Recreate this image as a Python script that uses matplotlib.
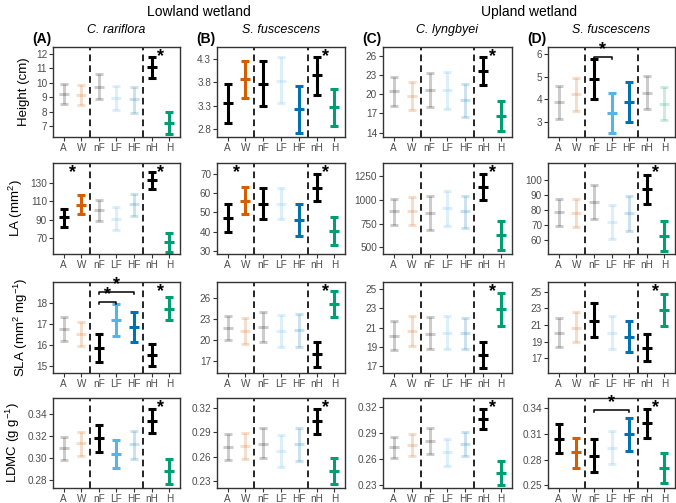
import numpy as np
import matplotlib.pyplot as plt

plt.rcParams["font.family"] = ["Liberation Sans", "DejaVu Sans"]
plt.rcParams["mathtext.fontset"] = "custom"
plt.rcParams["mathtext.rm"] = "Liberation Sans"
plt.rcParams["mathtext.default"] = "regular"

GROUPS = ["A", "W", "nF", "LF", "HF", "nH", "H"]
GROUP_COLORS = ["black", "#D55E00", "black", "#56B4E9", "#0072B2", "black", "#009E73"]

SPECIES = ["C. rariflora", "S. fuscescens", "C. lyngbyei", "S. fuscescens"]
PANEL_TAGS = ["(A)", "(B)", "(C)", "(D)"]
SITES = ["Lowland wetland", "Upland wetland"]
TRAIT_LABELS = ["Height (cm)", "LA (mm$^2$)", "SLA (mm$^2$ mg$^{-1}$)", "LDMC (g g$^{-1}$)"]

# ---- Height ----
HEIGHT_MEAN = [
    [9.20, 9.15, 9.73, 8.97, 8.85, 11.12, 7.23],
    [3.35, 3.87, 3.76, 3.84, 3.22, 3.95, 3.28],
    [20.52, 19.79, 20.68, 20.68, 19.10, 23.70, 16.60],
    [3.86, 4.23, 4.89, 3.37, 3.89, 4.26, 3.79],
]
HEIGHT_LOW = [
    [8.50, 8.46, 8.88, 8.10, 7.93, 10.36, 6.42],
    [2.94, 3.47, 3.29, 3.35, 2.71, 3.52, 2.87],
    [18.17, 17.55, 17.97, 17.70, 16.50, 21.46, 14.30],
    [3.12, 3.47, 4.00, 2.48, 3.00, 3.55, 3.07],
]
HEIGHT_HIGH = [
    [9.92, 9.85, 10.60, 9.80, 9.73, 11.80, 8.00],
    [3.76, 4.26, 4.26, 4.35, 3.72, 4.35, 3.67],
    [22.77, 21.98, 23.39, 23.55, 21.60, 25.80, 19.00],
    [4.60, 4.97, 5.78, 4.26, 4.78, 5.03, 4.56],
]
HEIGHT_SOLID = [
    [0, 0, 0, 0, 0, 1, 1],
    [1, 1, 1, 0, 1, 1, 1],
    [0, 0, 0, 0, 0, 1, 1],
    [0, 0, 1, 1, 1, 0, 0],
]

# ---- LA ----
LA_MEAN = [
    [92.9, 106.4, 100.2, 91.1, 107.5, 132.9, 66.4],
    [46.9, 56.2, 54.5, 54.5, 46.1, 63.0, 40.3],
    [879, 885, 861, 914, 879, 1133, 631],
    [78.4, 78.2, 85.1, 72.2, 78.2, 93.8, 62.7],
]
LA_LOW = [
    [82.7, 96.2, 89.3, 79.0, 94.7, 123.5, 55.5],
    [40.0, 49.0, 46.4, 46.4, 37.7, 56.0, 33.0],
    [737, 737, 684, 727, 709, 995, 472],
    [69.3, 68.4, 73.8, 60.4, 66.2, 84.0, 52.9],
]
LA_HIGH = [
    [102.0, 116.5, 111.8, 103.8, 118.5, 142.0, 76.2],
    [54.5, 63.2, 62.7, 62.7, 54.5, 70.0, 47.5],
    [1013, 1027, 1038, 1091, 1045, 1275, 783],
    [87.3, 87.3, 96.2, 83.3, 89.3, 102.9, 72.7],
]
LA_SOLID = [
    [1, 1, 0, 0, 0, 1, 1],
    [1, 1, 1, 0, 1, 1, 1],
    [0, 0, 0, 0, 0, 1, 1],
    [0, 0, 0, 0, 0, 1, 1],
]

# ---- SLA ----
SLA_MEAN = [
    [16.77, 16.53, 15.86, 17.19, 16.84, 15.55, 17.73],
    [21.69, 21.31, 21.92, 21.31, 21.45, 18.03, 25.20],
    [20.13, 20.64, 20.30, 20.47, 20.40, 18.19, 22.86],
    [20.00, 20.68, 21.52, 20.08, 19.52, 18.20, 22.80],
]
SLA_LOW = [
    [16.22, 15.94, 15.19, 16.45, 16.14, 15.00, 17.19],
    [20.05, 19.44, 19.81, 19.00, 19.10, 16.20, 23.33],
    [18.70, 19.14, 18.77, 18.80, 18.80, 16.83, 21.19],
    [18.30, 18.92, 19.52, 18.12, 17.68, 16.68, 20.88],
]
SLA_HIGH = [
    [17.31, 17.11, 16.53, 17.92, 17.55, 16.06, 18.28],
    [23.47, 23.09, 24.03, 23.56, 23.66, 19.81, 26.98],
    [21.66, 22.17, 22.04, 22.17, 22.00, 19.55, 24.60],
    [21.80, 22.52, 23.68, 22.08, 21.52, 19.88, 24.72],
]
SLA_SOLID = [
    [0, 0, 1, 1, 1, 1, 1],
    [0, 0, 0, 0, 0, 1, 1],
    [0, 0, 0, 0, 0, 1, 1],
    [0, 0, 1, 0, 1, 1, 1],
]

# ---- LDMC ----
LDMC_MEAN = [
    [0.3091, 0.3136, 0.3180, 0.3038, 0.3127, 0.3335, 0.2883],
    [0.2714, 0.2734, 0.2762, 0.2673, 0.2754, 0.3038, 0.2430],
    [0.2733, 0.2763, 0.2809, 0.2683, 0.2771, 0.3066, 0.2434],
    [0.3044, 0.2883, 0.2844, 0.2940, 0.3094, 0.3228, 0.2703],
]
LDMC_LOW = [
    [0.2984, 0.3017, 0.3058, 0.2910, 0.2993, 0.3231, 0.2770],
    [0.2559, 0.2572, 0.2580, 0.2470, 0.2551, 0.2876, 0.2268],
    [0.2606, 0.2637, 0.2656, 0.2514, 0.2629, 0.2943, 0.2300],
    [0.2871, 0.2703, 0.2653, 0.2749, 0.2902, 0.3055, 0.2527],
]
LDMC_HIGH = [
    [0.3195, 0.3240, 0.3300, 0.3162, 0.3246, 0.3445, 0.2993],
    [0.2876, 0.2896, 0.2949, 0.2864, 0.2949, 0.3192, 0.2584],
    [0.2856, 0.2894, 0.2955, 0.2828, 0.2913, 0.3181, 0.2572],
    [0.3209, 0.3055, 0.3036, 0.3132, 0.3277, 0.3389, 0.2875],
]
LDMC_SOLID = [
    [0, 0, 1, 1, 0, 1, 1],
    [0, 0, 0, 0, 0, 1, 1],
    [0, 0, 0, 0, 0, 1, 1],
    [1, 1, 1, 0, 1, 1, 1],
]

# y ticks per row/panel
YTICKS = [
    [[7, 8, 9, 10, 11, 12], [2.8, 3.3, 3.8, 4.3], [14, 17, 20, 23, 26], [3, 4, 5, 6]],
    [[70, 90, 110, 130], [30, 40, 50, 60, 70], [500, 750, 1000, 1250], [60, 70, 80, 90, 100]],
    [[15, 16, 17, 18], [17, 20, 23, 26], [17, 19, 21, 23, 25], [17, 19, 21, 23, 25]],
    [[0.28, 0.30, 0.32, 0.34], [0.23, 0.26, 0.29, 0.32], [0.23, 0.26, 0.29, 0.32], [0.25, 0.28, 0.31, 0.34]],
]
YLIMS = [
    [(6.24, 12.49), (2.63, 4.56), (13.3, 27.4), (2.32, 6.33)],
    [(52.9, 151.8), (28.3, 75.8), (429, 1391), (50.7, 111.1)],
    [(14.69, 18.98), (15.36, 28.25), (16.32, 25.68), (15.2, 26.2)],
    [(0.2732, 0.3543), (0.2215, 0.3322), (0.2262, 0.3307), (0.247, 0.3515)],
]

# significance stars: (row, col, x position)
STARS = [
    (0, 0, 6.5), (0, 1, 6.5), (0, 2, 6.5),
    (1, 0, 1.5), (1, 0, 6.5), (1, 1, 1.5), (1, 1, 6.5), (1, 2, 6.5), (1, 3, 6.5),
    (2, 0, 6.5), (2, 1, 6.5), (2, 2, 6.5), (2, 3, 6.5),
    (3, 0, 6.5), (3, 1, 6.5), (3, 2, 6.5), (3, 3, 6.5),
]
# brackets: (row, col, from group, to group, y)
BRACKETS = [
    (0, 3, 3, 4, 5.88),
    (2, 0, 3, 4, 18.05),
    (2, 0, 3, 5, 18.50),
    (3, 3, 3, 5, 0.338),
]

TRAITS = [
    (HEIGHT_MEAN, HEIGHT_LOW, HEIGHT_HIGH, HEIGHT_SOLID),
    (LA_MEAN, LA_LOW, LA_HIGH, LA_SOLID),
    (SLA_MEAN, SLA_LOW, SLA_HIGH, SLA_SOLID),
    (LDMC_MEAN, LDMC_LOW, LDMC_HIGH, LDMC_SOLID),
]

W, H = 676, 503
fig = plt.figure(figsize=(W / 100, H / 100), dpi=100)

col_px = [(53, 180), (217, 345), (383, 512), (548, 675)]
row_px = [(47, 137), (163, 254), (282, 373), (398, 488)]

axes = [[None] * 4 for _ in range(4)]
x = np.arange(1, 8)

for r in range(4):
    means, lows, highs, solids = TRAITS[r]
    for c in range(4):
        x0, x1 = col_px[c]
        y0, y1 = row_px[r]
        ax = fig.add_axes([x0 / W, 1 - y1 / H, (x1 - x0) / W, (y1 - y0) / H])
        axes[r][c] = ax

        for i in range(7):
            m = means[c][i]
            alpha = 1.0 if solids[c][i] else 0.2
            ax.errorbar(
                x[i], m,
                yerr=[[m - lows[c][i]], [highs[c][i] - m]],
                fmt="_", ms=6.5, mew=2.2,
                capsize=2.8, capthick=2.2, elinewidth=2.2,
                color=GROUP_COLORS[i], alpha=alpha,
            )

        for xv in (2.5, 5.5):
            ax.axvline(xv, color="black", lw=1.2, ls=(0, (4, 2.5)))

        ax.set_xlim(0.4, 7.6)
        ax.set_ylim(*YLIMS[r][c])
        ax.set_xticks(x)
        ax.set_xticklabels(GROUPS)
        ax.set_yticks(YTICKS[r][c])
        ax.set_yticklabels([f"{t:g}" if r < 3 else f"{t:.2f}" for t in YTICKS[r][c]])
        ax.tick_params(colors="#333333", labelcolor="#4D4D4D", length=3,
                       width=0.8, labelsize=7.2, pad=1.2)
        for s in ax.spines.values():
            s.set_color("#333333")
            s.set_linewidth(1.0)

        if c == 0:
            ax.set_ylabel(TRAIT_LABELS[r], fontsize=9.5, labelpad=4)

        if r == 0:
            ax.set_title(SPECIES[c], fontsize=9, style="italic", pad=10)
            ax.text(-0.16, 1.01, PANEL_TAGS[c], transform=ax.transAxes,
                    fontsize=10, fontweight="bold", ha="left", va="bottom")

for r, c, xs in STARS:
    ax = axes[r][c]
    ax.text(xs, 0.99, "*", transform=ax.get_xaxis_transform(),
            fontsize=13, fontweight="bold", ha="center", va="top")

for r, c, g1, g2, yv in BRACKETS:
    ax = axes[r][c]
    lo, hi = ax.get_ylim()
    tick = (hi - lo) * 0.025
    ax.plot([g1, g1, g2, g2], [yv - tick, yv, yv, yv - tick], color="black", lw=1.1)
    ax.text((g1 + g2) / 2, yv - tick * 0.6, "*", fontsize=13, fontweight="bold",
            ha="center", va="bottom")

# site headers
fig.text((53 + 345) / 2 / W, 1 - 12 / H, SITES[0], fontsize=10, ha="center", va="center")
fig.text((383 + 675) / 2 / W, 1 - 12 / H, SITES[1], fontsize=10, ha="center", va="center")

fig.savefig("out.png", dpi=100)
